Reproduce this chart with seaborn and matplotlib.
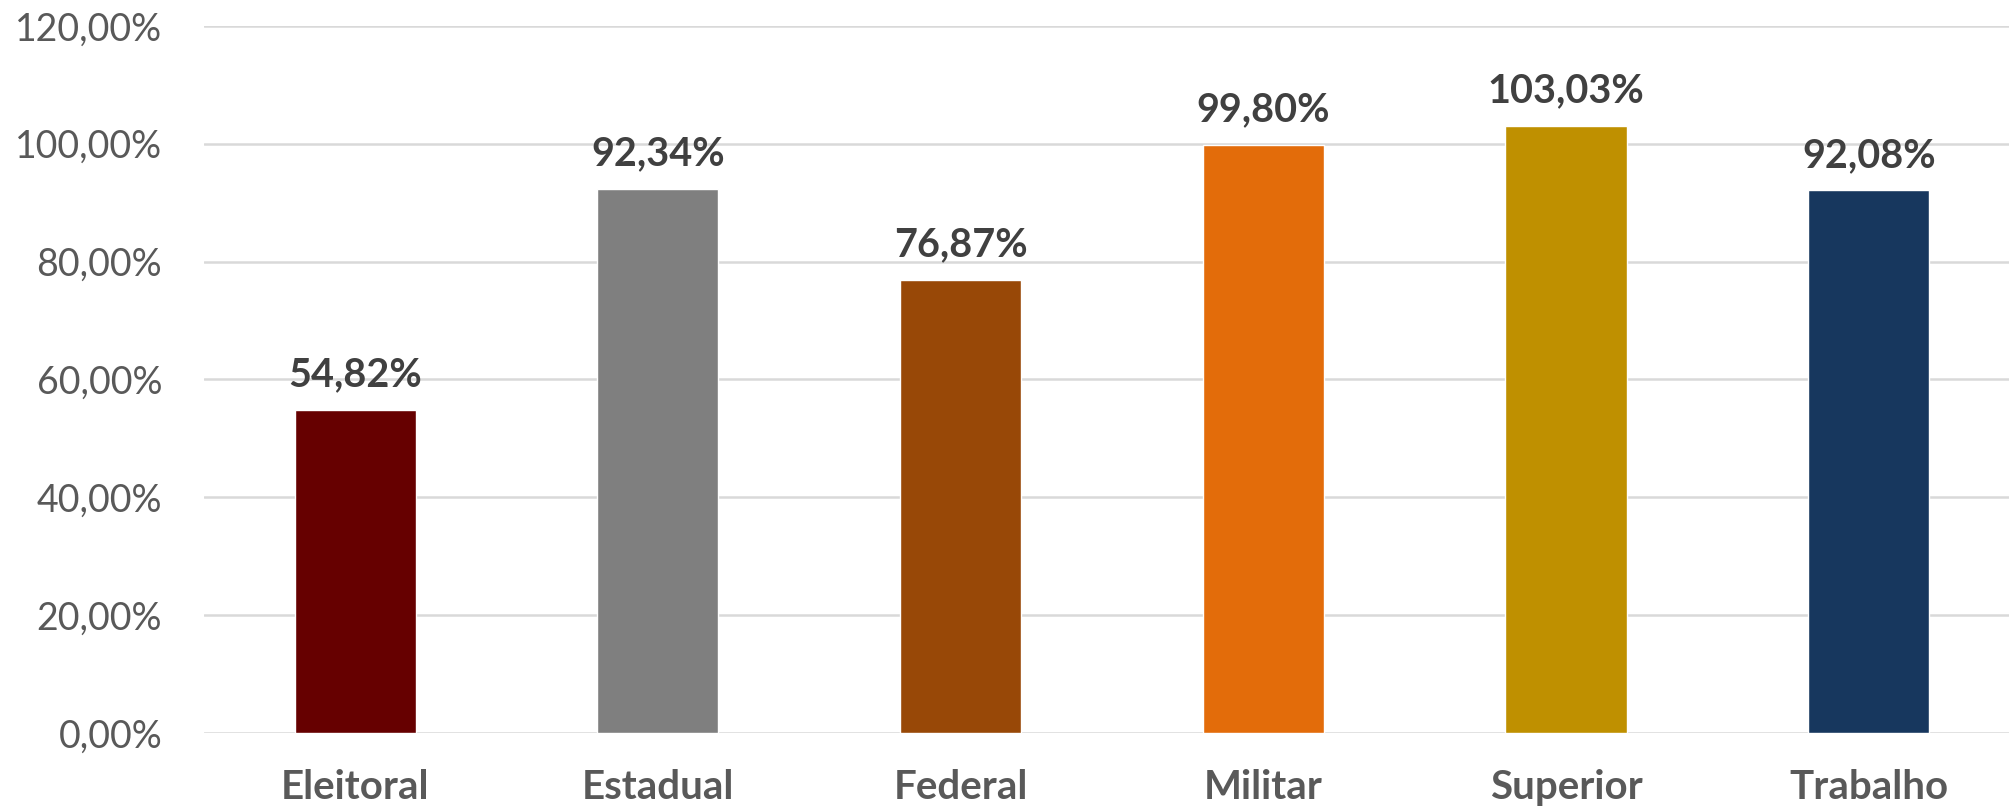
import matplotlib
matplotlib.use("Agg")
import matplotlib.pyplot as plt
import seaborn as sns
import pandas as pd

categories = ["Eleitoral", "Estadual", "Federal", "Militar", "Superior", "Trabalho"]
values = [54.82, 92.34, 76.87, 99.80, 103.03, 92.08]
colors = ["#660000", "#7F7F7F", "#984807", "#E36C0A", "#BF9000", "#17375E"]
yticks = [0, 20, 40, 60, 80, 100, 120]

sns.set_theme(style="white")
plt.rcParams['font.family'] = ['Lato', 'DejaVu Sans']

df = pd.DataFrame({"cat": categories, "val": values})
fig = plt.figure(figsize=(20.09, 8.09), dpi=100)
ax = fig.add_axes([0.1015, 0.094, 0.904, 0.874])
sns.barplot(data=df, x="cat", y="val", hue="cat", palette=colors, width=0.40,
            legend=False, ax=ax, saturation=1)

ax.set_ylim(0, 120)
ax.set_yticks(yticks)
ax.set_yticklabels([f"{t:.2f}".replace(".", ",") + "%" for t in yticks],
                   fontsize=27, color="#595959")
ax.yaxis.grid(True, color="#D9D9D9", linewidth=1.8)
ax.set_axisbelow(True)
for s in ax.spines.values():
    s.set_visible(False)
ax.tick_params(axis="both", length=0)
ax.tick_params(axis="y", pad=30)
ax.tick_params(axis="x", pad=26)
ax.set_xticks(range(len(categories)))
ax.set_xticklabels(categories, fontsize=29, fontweight="bold", color="#595959")
ax.set_xlabel("")
ax.set_ylabel("")
ax.set_xlim(-0.5, len(categories) - 0.5)

for i, v in enumerate(values):
    ax.annotate(f"{v:.2f}".replace(".", ",") + "%", (i, v), xytext=(0, 12),
                textcoords="offset points", ha="center", va="bottom",
                fontsize=28.5, fontweight="bold", color="#404040")

fig.savefig("out.png", dpi=100)
